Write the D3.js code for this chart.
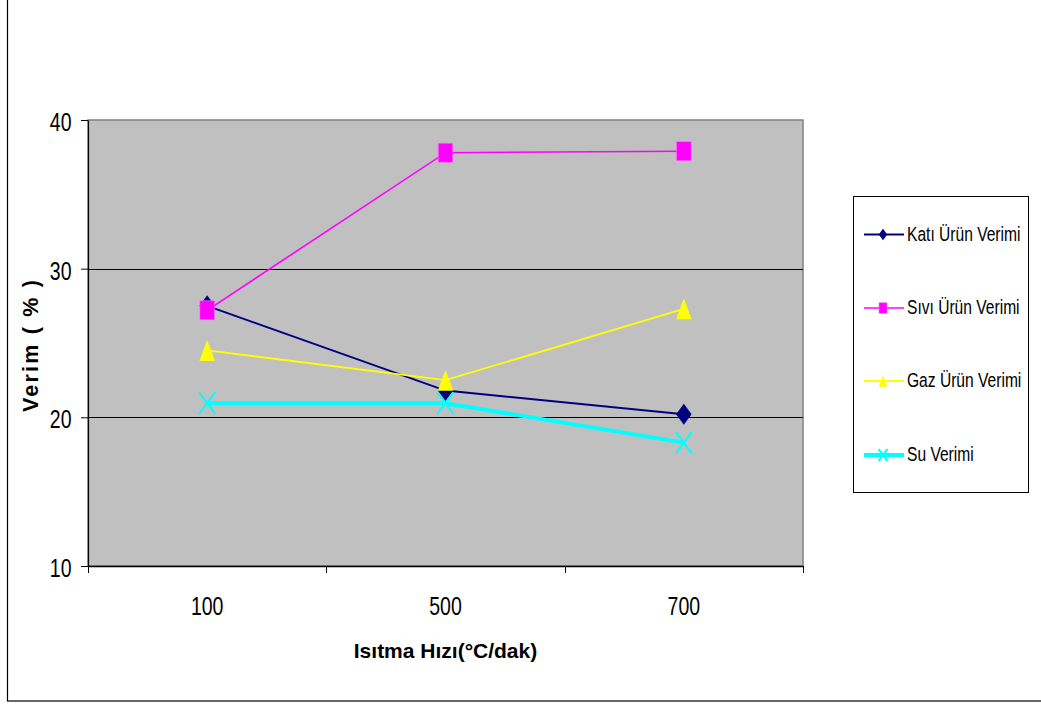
<!DOCTYPE html>
<html>
<head>
<meta charset="utf-8">
<script src="https://cdn.jsdelivr.net/npm/d3@7"></script>
<style>
  html, body { margin: 0; padding: 0; background: #fff; }
  svg { display: block; }
</style>
</head>
<body>
<svg id="chart" width="1041" height="704"></svg>
<script>
// Heating rate categories (°C/dak) and yields (%)
const categories = ["100", "500", "700"];
const katiVerim = [27.5, 21.8, 20.2];
const siviVerim = [27.2, 37.8, 37.9];
const gazVerim  = [24.5, 22.5, 27.3];
const suVerim   = [20.95, 20.95, 18.3];
const yTicks = [10, 20, 30, 40];
const seriesNames = ["Katı Ürün Verimi", "Sıvı Ürün Verimi", "Gaz Ürün Verimi", "Su Verimi"];

const series = [
  { name: seriesNames[0], values: katiVerim, color: "#000080", width: 2,   marker: "diamond" },
  { name: seriesNames[1], values: siviVerim, color: "#FF00FF", width: 1.6, marker: "square" },
  { name: seriesNames[2], values: gazVerim,  color: "#FFFF00", width: 1.8, marker: "triangle" },
  { name: seriesNames[3], values: suVerim,   color: "#00FFFF", width: 4,   marker: "cross" }
];

const FONT = "'Liberation Sans', Arial, sans-serif";
const NARROW = 0.78; // horizontal condensing for the narrow label face

const svg = d3.select("#chart");
const plot = { left: 88, right: 803, top: 120, bottom: 566 };

const x = d3.scaleBand().domain(categories).range([plot.left, plot.right]).paddingInner(0).paddingOuter(0);
const y = d3.scaleLinear().domain([10, 40]).range([plot.bottom, plot.top]);
const cx = c => x(c) + x.bandwidth() / 2;

// outer chart frame
svg.append("rect")
  .attr("x", 7.5).attr("y", -5).attr("width", 1050).attr("height", 706)
  .attr("fill", "none").attr("stroke", "#000").attr("stroke-width", 1.2);

// plot area background
svg.append("rect")
  .attr("x", plot.left).attr("y", plot.top)
  .attr("width", plot.right - plot.left).attr("height", plot.bottom - plot.top)
  .attr("fill", "#C0C0C0").attr("stroke", "#808080").attr("stroke-width", 1.5);

// horizontal gridlines
svg.append("g").selectAll("line")
  .data(yTicks.filter(t => t > 10 && t < 40))
  .join("line")
  .attr("x1", plot.left).attr("x2", plot.right)
  .attr("y1", d => Math.round(y(d)) + 0.5).attr("y2", d => Math.round(y(d)) + 0.5)
  .attr("stroke", "#000").attr("stroke-width", 1);

// y axis
const yAxis = svg.append("g")
  .attr("transform", `translate(${plot.left},0)`)
  .call(d3.axisLeft(y).tickValues(yTicks).tickSize(7).tickPadding(9.5).tickSizeOuter(0));
yAxis.select(".domain").attr("stroke", "#000").attr("stroke-width", 1.2);
yAxis.selectAll(".tick line").attr("stroke", "#000");
yAxis.selectAll(".tick text")
  .attr("font-family", FONT)
  .attr("font-size", 25).attr("fill", "#000").attr("dy", "0.42em")
  .each(function () {
    const t = d3.select(this);
    const tx = +t.attr("x");
    t.attr("x", 0).attr("transform", `translate(${tx},0) scale(${NARROW},1)`);
  });

// x axis: labels centred in each category, ticks on category boundaries
const xAxis = svg.append("g")
  .attr("transform", `translate(0,${plot.bottom})`)
  .call(d3.axisBottom(x).tickSize(0).tickPadding(31).tickSizeOuter(0));
xAxis.select(".domain").attr("stroke", "#000").attr("stroke-width", 1.6);
xAxis.selectAll(".tick text")
  .attr("font-family", FONT)
  .attr("font-size", 25).attr("fill", "#000")
  .attr("transform", `scale(${NARROW},1)`)
  .attr("x", 0);
// keep each label centred on its band after condensing
xAxis.selectAll(".tick text").attr("transform", `scale(${NARROW},1)`);
const bounds = categories.map(c => x(c)).concat([plot.right]);
xAxis.append("g").selectAll("line")
  .data(bounds)
  .join("line")
  .attr("x1", d => Math.round(d) + 0.5).attr("x2", d => Math.round(d) + 0.5)
  .attr("y1", 0).attr("y2", 7)
  .attr("stroke", "#000").attr("stroke-width", 1);

// axis titles
svg.append("text")
  .attr("x", (plot.left + plot.right) / 2).attr("y", 658)
  .attr("text-anchor", "middle")
  .attr("font-family", FONT)
  .attr("font-weight", "bold").attr("font-size", 21)
  .text("Isıtma Hızı(°C/dak)");

svg.append("text")
  .attr("transform", "translate(37.5,346) rotate(-90)")
  .attr("text-anchor", "middle")
  .attr("font-family", FONT)
  .attr("font-weight", "bold").attr("font-size", 21.5)
  .attr("textLength", 132).attr("lengthAdjust", "spacing")
  .text("Verim ( % )");

// marker drawing, w x h box centred on (0,0)
function drawMarker(g, type, color, w, h) {
  if (type === "diamond") {
    g.append("path").attr("d", `M0,${-h/2}L${w/2},0L0,${h/2}L${-w/2},0Z`).attr("fill", color);
  } else if (type === "square") {
    g.append("rect").attr("x", -w/2).attr("y", -h/2).attr("width", w).attr("height", h)
      .attr("fill", color).attr("stroke", "#FF66FF").attr("stroke-width", 0.6);
  } else if (type === "triangle") {
    g.append("path").attr("d", `M0,${-h/2}L${w/2},${h/2}L${-w/2},${h/2}Z`).attr("fill", color);
  } else if (type === "cross") {
    g.append("path").attr("d", `M${-w/2},${-h/2}L${w/2},${h/2}M${w/2},${-h/2}L${-w/2},${h/2}`)
      .attr("stroke", color).attr("stroke-width", 2).attr("fill", "none");
  }
}

const markerSize = {
  diamond:  [15.5, 21],
  square:   [14.5, 19],
  triangle: [15.5, 21],
  cross:    [16, 21.5]
};

const line = d3.line().x((d, i) => cx(categories[i])).y(d => y(d));

series.forEach(s => {
  const g = svg.append("g");
  g.append("path")
    .attr("d", line(s.values))
    .attr("fill", "none").attr("stroke", s.color).attr("stroke-width", s.width);
  s.values.forEach((v, i) => {
    const m = g.append("g").attr("transform", `translate(${cx(categories[i])},${y(v)})`);
    drawMarker(m, s.marker, s.color, markerSize[s.marker][0], markerSize[s.marker][1]);
  });
});

// legend
const legend = svg.append("g");
legend.append("rect")
  .attr("x", 853.5).attr("y", 196.5).attr("width", 175).attr("height", 296)
  .attr("fill", "#fff").attr("stroke", "#000").attr("stroke-width", 1);
const legendRows = [234.5, 308, 381, 455];
series.forEach((s, i) => {
  const row = legend.append("g").attr("transform", `translate(0,${legendRows[i]})`);
  row.append("line").attr("x1", 864).attr("x2", 904).attr("y1", 0).attr("y2", 0)
    .attr("stroke", s.color).attr("stroke-width", s.width);
  const m = row.append("g").attr("transform", "translate(883,0)");
  drawMarker(m, s.marker, s.color, markerSize[s.marker][0] * 0.55, markerSize[s.marker][1] * 0.55);
  row.append("text")
    .attr("transform", "translate(907,6) scale(0.8,1)")
    .attr("font-family", FONT)
    .attr("font-size", 19.5).attr("fill", "#000")
    .text(s.name);
});
</script>
</body>
</html>
